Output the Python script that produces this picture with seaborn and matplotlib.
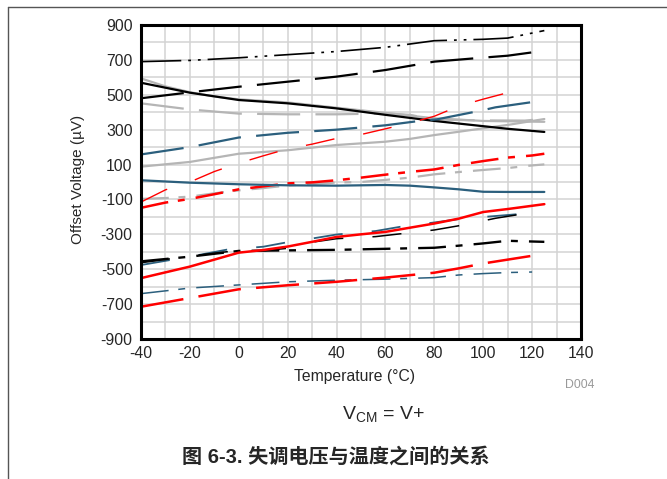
import matplotlib
matplotlib.use("Agg")
import matplotlib.pyplot as plt
import seaborn as sns
from matplotlib.lines import Line2D

# --- данные (температура в °C, напряжение смещения в мкВ) ---
t_blk_ddot = [-40, -20, 0, 20, 40, 60, 80, 100, 110, 125]
v_blk_ddot = [690, 697, 712, 730, 748, 772, 810, 818, 825, 868]

t_blk_ldash = [-40, -20, 0, 20, 40, 60, 80, 100, 110, 120]
v_blk_ldash = [480, 514, 546, 575, 604, 642, 690, 713, 724, 743]

t_blk_solid = [-40, -20, 0, 20, 40, 60, 80, 100, 110, 125]
v_blk_solid = [569, 512, 470, 451, 422, 385, 350, 320, 305, 287]

t_gry_solid_hi = [-40, -30, -20, -10, 0, 20, 40, 60, 80, 100, 125]
v_gry_solid_hi = [594, 548, 515, 490, 474, 456, 426, 396, 365, 350, 345]

t_gry_ldash = [-40, -20, 0, 20, 40, 60, 70, 80, 100, 117, 125]
v_gry_ldash = [451, 416, 392, 388, 388, 393, 385, 358, 353, 352, 362]

t_gry_solid_lo = [-40, -20, 0, 20, 40, 60, 70, 80, 90, 100, 110, 125]
v_gry_solid_lo = [88, 115, 162, 182, 212, 231, 247, 269, 288, 308, 327, 361]

t_teal_ldash_hi = [-40, -20, 0, 20, 40, 60, 75, 81, 99, 105, 123]
v_teal_ldash_hi = [158, 200, 255, 282, 300, 325, 352, 359, 409, 428, 464]

t_red_thin = [-40, -30, -20, -10, 0, 10, 20, 30, 40, 50, 60, 70, 80, 90, 100, 110, 117]
v_red_thin = [-115, -45, 0, 60, 108, 150, 190, 217, 250, 272, 305, 338, 377, 435, 475, 512, 537]

t_red_dashdot = [-40, -30, -20, -10, 0, 10, 20, 30, 40, 50, 60, 70, 80, 90, 100, 110, 120, 125]
v_red_dashdot = [-148, -118, -97, -70, -42, -25, -8, -2, 10, 25, 42, 58, 72, 98, 120, 140, 152, 162]

t_gry_dashdot = [-40, -30, -20, -10, 0, 10, 20, 30, 40, 50, 60, 70, 80, 90, 100, 110, 120, 125]
v_gry_dashdot = [-97, -92, -84, -65, -48, -35, -20, -12, -3, 0, 12, 25, 44, 57, 69, 80, 95, 101]

t_teal_solid = [-40, -20, 0, 20, 40, 60, 70, 80, 90, 100, 110, 125]
v_teal_solid = [10, -4, -13, -19, -21, -17, -21, -31, -42, -56, -57, -57]

t_red_solid = [-40, -20, 0, 10, 20, 30, 40, 50, 60, 70, 80, 90, 100, 110, 125]
v_red_solid = [-551, -485, -405, -390, -370, -343, -315, -300, -286, -262, -238, -210, -172, -155, -127]

t_blk_dashdot_lo = [-40, -20, 0, 20, 40, 60, 80, 90, 100, 110, 117, 125]
v_blk_dashdot_lo = [-455, -428, -395, -392, -389, -383, -377, -365, -352, -337, -340, -343]

t_blk_ldash_lo = [-40, -20, -5, 10, 20, 30, 40, 56, 68, 80, 92, 105, 117]
v_blk_ldash_lo = [-463, -425, -400, -394, -380, -345, -325, -313, -294, -275, -246, -208, -181]

t_teal_ldash_lo = [-40, -20, -5, 10, 20, 30, 40, 56, 68, 80, 92, 105, 117]
v_teal_ldash_lo = [-476, -428, -388, -371, -345, -324, -301, -281, -252, -232, -209, -195, -181]

t_teal_dashdot_lo = [-40, -20, 0, 20, 40, 60, 80, 90, 100, 110, 120]
v_teal_dashdot_lo = [-640, -608, -590, -572, -563, -557, -548, -533, -525, -519, -516]

t_red_ldash_lo = [-40, -20, 0, 20, 40, 60, 80, 90, 100, 120]
v_red_ldash_lo = [-715, -665, -615, -592, -572, -548, -520, -495, -467, -423]

x_ticks = list(range(-40, 141, 20))
y_ticks = list(range(-900, 901, 200))

# --- стили линий ---
BLACK = "#000000"
GRAY = "#b5b5b5"
TEAL = "#2b5f7d"
RED = "#ff0000"

LONG_DASH = (0, (31, 11))
MED_DASH = (0, (21, 21))
DASH_DOT = (0, (20, 7, 5, 8))
DASH_DOT_DOT = (0, (29, 5, 2, 5, 2, 5))

series = [
    (t_gry_solid_hi, v_gry_solid_hi, GRAY, 1.6, "-"),
    (t_gry_ldash, v_gry_ldash, GRAY, 1.6, LONG_DASH),
    (t_gry_solid_lo, v_gry_solid_lo, GRAY, 1.6, "-"),
    (t_gry_dashdot, v_gry_dashdot, GRAY, 1.6, DASH_DOT),
    (t_blk_ddot, v_blk_ddot, BLACK, 1.2, DASH_DOT_DOT),
    (t_blk_ldash, v_blk_ldash, BLACK, 1.6, LONG_DASH),
    (t_blk_solid, v_blk_solid, BLACK, 1.6, "-"),
    (t_teal_ldash_hi, v_teal_ldash_hi, TEAL, 1.6, LONG_DASH),
    (t_red_thin, v_red_thin, RED, 1.0, MED_DASH),
    (t_red_dashdot, v_red_dashdot, RED, 1.8, DASH_DOT),
    (t_teal_solid, v_teal_solid, TEAL, 1.6, "-"),
    (t_teal_ldash_lo, v_teal_ldash_lo, TEAL, 1.3, MED_DASH),
    (t_blk_ldash_lo, v_blk_ldash_lo, BLACK, 1.1, MED_DASH),
    (t_blk_dashdot_lo, v_blk_dashdot_lo, BLACK, 1.7, DASH_DOT),
    (t_red_solid, v_red_solid, RED, 1.8, "-"),
    (t_teal_dashdot_lo, v_teal_dashdot_lo, TEAL, 1.1, DASH_DOT),
    (t_red_ldash_lo, v_red_ldash_lo, RED, 1.8, LONG_DASH),
]

sns.set_style("white")
plt.rcParams['font.family'] = ['Liberation Sans', 'Noto Sans CJK SC', 'DejaVu Sans']
plt.rcParams['lines.scale_dashes'] = False
plt.rcParams['mathtext.fontset'] = 'custom'
plt.rcParams['mathtext.rm'] = 'Liberation Sans'
plt.rcParams['mathtext.it'] = 'Liberation Sans'

fig = plt.figure(figsize=(6.67, 4.79), dpi=100)
ax = fig.add_axes([141 / 667, 1 - 339 / 479, 440 / 667, 314 / 479])

for t, v, color, lw, ls in series:
    sns.lineplot(x=t, y=v, ax=ax, color=color, linewidth=lw, linestyle=ls,
                 estimator=None, sort=False)

ax.set_xlim(-40, 140)
ax.set_ylim(-900, 900)
ax.set_xticks(x_ticks)
ax.set_xticks(list(range(-30, 140, 20)), minor=True)
ax.set_yticks(y_ticks)
ax.set_yticks(list(range(-800, 900, 200)), minor=True)
ax.set_xticklabels([str(x) for x in x_ticks], fontsize=11.3)
ax.set_yticklabels([str(y) for y in y_ticks], fontsize=11.3)
ax.tick_params(which='both', length=0)
ax.tick_params(axis='y', pad=6)
ax.tick_params(axis='x', pad=5)
ax.grid(True, which='both', color='#d3d3d3', linewidth=1.1)
ax.set_axisbelow(True)
for sp in ax.spines.values():
    sp.set_color('black')
    sp.set_linewidth(2.2)
ax.set_xlabel('')
ax.set_ylabel('')

fig.text(355 / 667, 1 - 377 / 479, 'Temperature (°C)', ha='center', va='center', fontsize=11.3)
fig.text(78 / 667, 1 - 179 / 479, 'Offset Voltage (µV)', ha='center', va='center',
         rotation=90, fontsize=11)
fig.text(594 / 667, 1 - 385 / 479, 'D004', ha='right', va='center', fontsize=8.8, color='#999999')
fig.text(383 / 667, 1 - 414 / 479, r'V$_{\mathrm{CM}}$ = V+', ha='center', va='center', fontsize=14)
fig.text(336 / 667, 1 - 457 / 479, '图 6-3. 失调电压与温度之间的关系', ha='center', va='center',
         fontsize=14.5, fontweight='bold',
         family=['Liberation Sans', 'Noto Sans CJK SC', 'DejaVu Sans'])

# рамка страницы
fig.add_artist(Line2D([8 / 667, 8 / 667], [0, 1 - 7 / 479], color='#555555', linewidth=1,
                      transform=fig.transFigure))
fig.add_artist(Line2D([8 / 667, 1], [1 - 7 / 479, 1 - 7 / 479], color='#555555', linewidth=1,
                      transform=fig.transFigure))

fig.savefig('out.png', dpi=100)
